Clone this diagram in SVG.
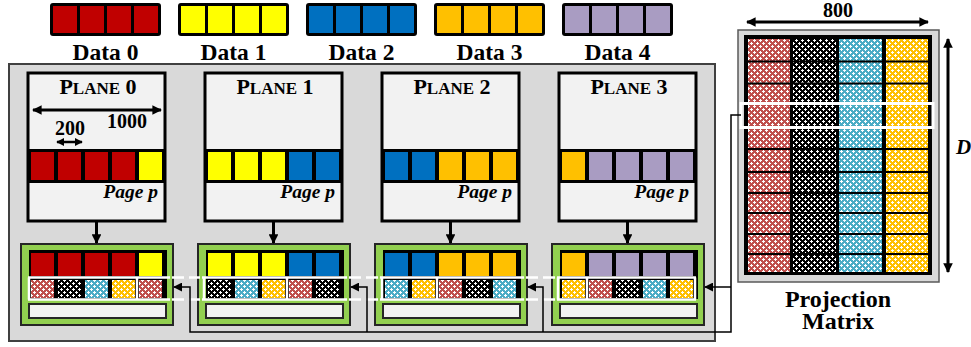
<svg xmlns="http://www.w3.org/2000/svg" xmlns:xlink="http://www.w3.org/1999/xlink" width="971" height="347" viewBox="0 0 971 347">
  <style>
    .lbl { font-family: 'Liberation Serif', serif; font-weight: bold; fill: #000; }
    .ital { font-style: italic; }
    .plane { fill: #f2f2f2; stroke: #000; stroke-width: 3; }
    .buf { fill: #92d050; stroke: #262626; stroke-width: 2; }
    .slot { fill: #f2f2f2; stroke: #262626; stroke-width: 2; }
    .conn { fill: none; stroke: #000; stroke-width: 1.5; }
    .thick { fill: none; stroke: #000; stroke-width: 3; }
    .hl { fill: none; stroke: #fff; stroke-width: 2.5; }
    .hld { fill: none; stroke: #fff; stroke-width: 2.5; stroke-dasharray: 12 5; }
    .c0 { fill: #c00000; } .c1 { fill: #ffff00; } .c2 { fill: #0070c0; } .c3 { fill: #ffc000; } .c4 { fill: #a99cc2; }
    .pr { fill: url(#pr); } .pk { fill: url(#pk); } .pb { fill: url(#pb); } .po { fill: url(#po); }
  </style>
  <defs>
    <path id="lattice" d="M1 0h1v1h-1zM0 1h1v1h-1zM2 1h1v1h-1zM1 2h1v1h-1zM4 3h1v1h-1zM3 4h1v1h-1zM5 4h1v1h-1zM4 5h1v1h-1zM1 1h1v1h-1zM4 4h1v1h-1z" fill="#fff"/>
    <pattern id="pr" width="6" height="6" patternUnits="userSpaceOnUse"><rect width="6" height="6" fill="#c0504d"/><use xlink:href="#lattice"/></pattern>
    <pattern id="pk" width="6" height="6" patternUnits="userSpaceOnUse"><rect width="6" height="6" fill="#000"/><use xlink:href="#lattice"/></pattern>
    <pattern id="pb" width="6" height="6" patternUnits="userSpaceOnUse"><rect width="6" height="6" fill="#4bacc6"/><use xlink:href="#lattice"/></pattern>
    <pattern id="po" width="6" height="6" patternUnits="userSpaceOnUse"><rect width="6" height="6" fill="#ffc000"/><use xlink:href="#lattice"/></pattern>
    <marker id="ah" viewBox="0 0 10 10" refX="9" refY="5" markerWidth="3.2" markerHeight="3.2" orient="auto-start-reverse">
      <path d="M0 0L10 5L0 10z" fill="#000"/>
    </marker>
    <marker id="ahs" viewBox="0 0 10 10" refX="9" refY="5" markerWidth="6" markerHeight="6" orient="auto">
      <path d="M0 0L10 5L0 10z" fill="#000"/>
    </marker>
  </defs>

  <!-- legend -->
  <g id="legend-data0">
    <rect x="50" y="3" width="111" height="33" rx="3" fill="#000"/>
    <rect class="c0" x="53" y="6" width="24" height="27"/><rect class="c0" x="80" y="6" width="24" height="27"/><rect class="c0" x="107" y="6" width="24" height="27"/><rect class="c0" x="134" y="6" width="24" height="27"/>
    <text class="lbl" x="105.5" y="60" font-size="23.5" text-anchor="middle">Data 0</text>
  </g>
  <g id="legend-data1">
    <rect x="178" y="3" width="111" height="33" rx="3" fill="#000"/>
    <rect class="c1" x="181" y="6" width="24" height="27"/><rect class="c1" x="208" y="6" width="24" height="27"/><rect class="c1" x="235" y="6" width="24" height="27"/><rect class="c1" x="262" y="6" width="24" height="27"/>
    <text class="lbl" x="233.5" y="60" font-size="23.5" text-anchor="middle">Data 1</text>
  </g>
  <g id="legend-data2">
    <rect x="306" y="3" width="111" height="33" rx="3" fill="#000"/>
    <rect class="c2" x="309" y="6" width="24" height="27"/><rect class="c2" x="336" y="6" width="24" height="27"/><rect class="c2" x="363" y="6" width="24" height="27"/><rect class="c2" x="390" y="6" width="24" height="27"/>
    <text class="lbl" x="361.5" y="60" font-size="23.5" text-anchor="middle">Data 2</text>
  </g>
  <g id="legend-data3">
    <rect x="434" y="3" width="111" height="33" rx="3" fill="#000"/>
    <rect class="c3" x="437" y="6" width="24" height="27"/><rect class="c3" x="464" y="6" width="24" height="27"/><rect class="c3" x="491" y="6" width="24" height="27"/><rect class="c3" x="518" y="6" width="24" height="27"/>
    <text class="lbl" x="489.5" y="60" font-size="23.5" text-anchor="middle">Data 3</text>
  </g>
  <g id="legend-data4">
    <rect x="562" y="3" width="111" height="33" rx="3" fill="#000"/>
    <rect class="c4" x="565" y="6" width="24" height="27"/><rect class="c4" x="592" y="6" width="24" height="27"/><rect class="c4" x="619" y="6" width="24" height="27"/><rect class="c4" x="646" y="6" width="24" height="27"/>
    <text class="lbl" x="617.5" y="60" font-size="23.5" text-anchor="middle">Data 4</text>
  </g>

  <!-- chip die -->
  <rect id="die" x="9" y="64" width="706" height="277" fill="#d9d9d9" stroke="#404040" stroke-width="2"/>

  <!-- planes -->
  <g id="plane0">
    <rect class="plane" x="28" y="73" width="137" height="148"/>
    <text class="lbl" x="98" y="94" font-size="22" text-anchor="middle">P<tspan font-size="17">LANE</tspan> 0</text>
    <line class="thick" x1="33" y1="110" x2="161" y2="110" marker-start="url(#ah)" marker-end="url(#ah)"/>
    <text class="lbl" x="127" y="128" font-size="20" text-anchor="middle">1000</text>
    <text class="lbl" x="70" y="135" font-size="20" text-anchor="middle">200</text>
    <line x1="57" y1="142" x2="82" y2="142" stroke="#000" stroke-width="2.5" marker-start="url(#ah)" marker-end="url(#ah)"/>
    <rect x="28" y="149" width="137" height="34" fill="#000"/>
    <rect class="c0" x="31" y="152" width="23" height="28"/><rect class="c0" x="58" y="152" width="23" height="28"/><rect class="c0" x="85" y="152" width="23" height="28"/><rect class="c0" x="112" y="152" width="23" height="28"/><rect class="c1" x="139" y="152" width="23" height="28"/>
    <text class="lbl ital" x="158" y="198" font-size="19.5" text-anchor="end">Page p</text>
  </g>
  <g id="plane1">
    <rect class="plane" x="205" y="73" width="137" height="148"/>
    <text class="lbl" x="275" y="94" font-size="22" text-anchor="middle">P<tspan font-size="17">LANE</tspan> 1</text>
    <rect x="205" y="149" width="137" height="34" fill="#000"/>
    <rect class="c1" x="208" y="152" width="23" height="28"/><rect class="c1" x="235" y="152" width="23" height="28"/><rect class="c1" x="262" y="152" width="23" height="28"/><rect class="c2" x="289" y="152" width="23" height="28"/><rect class="c2" x="316" y="152" width="23" height="28"/>
    <text class="lbl ital" x="335" y="198" font-size="19.5" text-anchor="end">Page p</text>
  </g>
  <g id="plane2">
    <rect class="plane" x="382" y="73" width="137" height="148"/>
    <text class="lbl" x="452" y="94" font-size="22" text-anchor="middle">P<tspan font-size="17">LANE</tspan> 2</text>
    <rect x="382" y="149" width="137" height="34" fill="#000"/>
    <rect class="c2" x="385" y="152" width="23" height="28"/><rect class="c2" x="412" y="152" width="23" height="28"/><rect class="c3" x="439" y="152" width="23" height="28"/><rect class="c3" x="466" y="152" width="23" height="28"/><rect class="c3" x="493" y="152" width="23" height="28"/>
    <text class="lbl ital" x="512" y="198" font-size="19.5" text-anchor="end">Page p</text>
  </g>
  <g id="plane3">
    <rect class="plane" x="559" y="73" width="137" height="148"/>
    <text class="lbl" x="629" y="94" font-size="22" text-anchor="middle">P<tspan font-size="17">LANE</tspan> 3</text>
    <rect x="559" y="149" width="137" height="34" fill="#000"/>
    <rect class="c3" x="562" y="152" width="23" height="28"/><rect class="c4" x="589" y="152" width="23" height="28"/><rect class="c4" x="616" y="152" width="23" height="28"/><rect class="c4" x="643" y="152" width="23" height="28"/><rect class="c4" x="670" y="152" width="23" height="28"/>
    <text class="lbl ital" x="689" y="198" font-size="19.5" text-anchor="end">Page p</text>
  </g>

  <!-- page buffers -->
  <g id="buffer0">
    <rect class="buf" x="21" y="244" width="152" height="81"/>
    <rect x="29" y="250" width="138" height="49" fill="#000"/>
    <rect class="c0" x="31" y="253" width="23" height="23"/><rect class="c0" x="58" y="253" width="23" height="23"/><rect class="c0" x="85" y="253" width="23" height="23"/><rect class="c0" x="112" y="253" width="23" height="23"/><rect class="c1" x="139" y="253" width="23" height="23"/>
    <rect class="pr" x="31" y="280" width="23" height="18"/><rect class="pk" x="58" y="280" width="23" height="18"/><rect class="pb" x="85" y="280" width="23" height="18"/><rect class="po" x="112" y="280" width="23" height="18"/><rect class="pr" x="139" y="280" width="23" height="18"/>
    <rect class="slot" x="29" y="304" width="137" height="14"/>
  </g>
  <g id="buffer1">
    <rect class="buf" x="198" y="244" width="152" height="81"/>
    <rect x="206" y="250" width="138" height="49" fill="#000"/>
    <rect class="c1" x="208" y="253" width="23" height="23"/><rect class="c1" x="235" y="253" width="23" height="23"/><rect class="c1" x="262" y="253" width="23" height="23"/><rect class="c2" x="289" y="253" width="23" height="23"/><rect class="c2" x="316" y="253" width="23" height="23"/>
    <rect class="pk" x="208" y="280" width="23" height="18"/><rect class="pb" x="235" y="280" width="23" height="18"/><rect class="po" x="262" y="280" width="23" height="18"/><rect class="pr" x="289" y="280" width="23" height="18"/><rect class="pk" x="316" y="280" width="23" height="18"/>
    <rect class="slot" x="206" y="304" width="137" height="14"/>
  </g>
  <g id="buffer2">
    <rect class="buf" x="375" y="244" width="152" height="81"/>
    <rect x="383" y="250" width="138" height="49" fill="#000"/>
    <rect class="c2" x="385" y="253" width="23" height="23"/><rect class="c2" x="412" y="253" width="23" height="23"/><rect class="c3" x="439" y="253" width="23" height="23"/><rect class="c3" x="466" y="253" width="23" height="23"/><rect class="c3" x="493" y="253" width="23" height="23"/>
    <rect class="pb" x="385" y="280" width="23" height="18"/><rect class="po" x="412" y="280" width="23" height="18"/><rect class="pr" x="439" y="280" width="23" height="18"/><rect class="pk" x="466" y="280" width="23" height="18"/><rect class="pb" x="493" y="280" width="23" height="18"/>
    <rect class="slot" x="383" y="304" width="137" height="14"/>
  </g>
  <g id="buffer3">
    <rect class="buf" x="552" y="244" width="152" height="81"/>
    <rect x="560" y="250" width="138" height="49" fill="#000"/>
    <rect class="c3" x="562" y="253" width="23" height="23"/><rect class="c4" x="589" y="253" width="23" height="23"/><rect class="c4" x="616" y="253" width="23" height="23"/><rect class="c4" x="643" y="253" width="23" height="23"/><rect class="c4" x="670" y="253" width="23" height="23"/>
    <rect class="po" x="562" y="280" width="23" height="18"/><rect class="pr" x="589" y="280" width="23" height="18"/><rect class="pk" x="616" y="280" width="23" height="18"/><rect class="pb" x="643" y="280" width="23" height="18"/><rect class="po" x="670" y="280" width="23" height="18"/>
    <rect class="slot" x="560" y="304" width="137" height="14"/>
  </g>

  <!-- matrix rows laid across the buffers -->
  <g id="row-frames">
    <path class="hl" d="M28 277.5H170M202 277.5H347M380 277.5H524M557 277.5H696M28 299.5H170M202 299.5H347M380 299.5H524M557 299.5H696"/>
    <path class="hld" d="M172 277.5H200M349 277.5H378M526 277.5H555M172 299.5H200M349 299.5H378M526 299.5H555"/>
    <path class="hl" d="M29 277.5V299.5M137 277.5V299.5M204 277.5V299.5M287 277.5V299.5M382 277.5V299.5M437 277.5V299.5M558 277.5V299.5M587 277.5V299.5M695 277.5V299.5"/>
  </g>

  <!-- projection matrix -->
  <g id="projection-matrix">
    <rect x="738" y="30" width="201" height="252" fill="#d9d9d9" stroke="#595959" stroke-width="1.5"/>
    <rect x="744" y="35" width="188" height="240" fill="#000"/>
    <g id="col-red">
      <rect class="pr" x="748" y="39" width="42" height="21.5"/><rect class="pr" x="748" y="62.5" width="42" height="20"/><rect class="pr" x="748" y="84.5" width="42" height="19"/><rect class="pr" x="748" y="105" width="42" height="21"/><rect class="pr" x="748" y="128" width="42" height="20"/><rect class="pr" x="748" y="150" width="42" height="21"/><rect class="pr" x="748" y="173" width="42" height="19"/><rect class="pr" x="748" y="194" width="42" height="18"/><rect class="pr" x="748" y="214" width="42" height="19"/><rect class="pr" x="748" y="235" width="42" height="18"/><rect class="pr" x="748" y="255" width="42" height="17"/>
    </g>
    <g id="col-black">
      <rect class="pk" x="793" y="39" width="43" height="21.5"/><rect class="pk" x="793" y="62.5" width="43" height="20"/><rect class="pk" x="793" y="84.5" width="43" height="19"/><rect class="pk" x="793" y="105" width="43" height="21"/><rect class="pk" x="793" y="128" width="43" height="20"/><rect class="pk" x="793" y="150" width="43" height="21"/><rect class="pk" x="793" y="173" width="43" height="19"/><rect class="pk" x="793" y="194" width="43" height="18"/><rect class="pk" x="793" y="214" width="43" height="19"/><rect class="pk" x="793" y="235" width="43" height="18"/><rect class="pk" x="793" y="255" width="43" height="17"/>
    </g>
    <g id="col-blue">
      <rect class="pb" x="839" y="39" width="43" height="21.5"/><rect class="pb" x="839" y="62.5" width="43" height="20"/><rect class="pb" x="839" y="84.5" width="43" height="19"/><rect class="pb" x="839" y="105" width="43" height="21"/><rect class="pb" x="839" y="128" width="43" height="20"/><rect class="pb" x="839" y="150" width="43" height="21"/><rect class="pb" x="839" y="173" width="43" height="19"/><rect class="pb" x="839" y="194" width="43" height="18"/><rect class="pb" x="839" y="214" width="43" height="19"/><rect class="pb" x="839" y="235" width="43" height="18"/><rect class="pb" x="839" y="255" width="43" height="17"/>
    </g>
    <g id="col-orange">
      <rect class="po" x="886" y="39" width="42" height="21.5"/><rect class="po" x="886" y="62.5" width="42" height="20"/><rect class="po" x="886" y="84.5" width="42" height="19"/><rect class="po" x="886" y="105" width="42" height="21"/><rect class="po" x="886" y="128" width="42" height="20"/><rect class="po" x="886" y="150" width="42" height="21"/><rect class="po" x="886" y="173" width="42" height="19"/><rect class="po" x="886" y="194" width="42" height="18"/><rect class="po" x="886" y="214" width="42" height="19"/><rect class="po" x="886" y="235" width="42" height="18"/><rect class="po" x="886" y="255" width="42" height="17"/>
    </g>
    <rect x="741" y="103.5" width="192" height="24" fill="none" stroke="#fff" stroke-width="3"/>
    <line class="thick" x1="747" y1="22" x2="928" y2="22" marker-start="url(#ah)" marker-end="url(#ah)"/>
    <text class="lbl" x="838" y="17" font-size="20" text-anchor="middle">800</text>
    <line class="thick" x1="948" y1="39" x2="948" y2="272" marker-start="url(#ah)" marker-end="url(#ah)"/>
    <text class="lbl ital" x="956" y="154" font-size="21">D</text>
    <text class="lbl" x="838" y="307" font-size="24" text-anchor="middle">Projection</text>
    <text class="lbl" x="838" y="329" font-size="24" text-anchor="middle">Matrix</text>
  </g>

  <!-- connectors -->
  <g id="connectors">
    <line class="thick" x1="96.5" y1="221" x2="96.5" y2="243" marker-end="url(#ah)"/>
    <line class="thick" x1="273.5" y1="221" x2="273.5" y2="243" marker-end="url(#ah)"/>
    <line class="thick" x1="450.5" y1="221" x2="450.5" y2="243" marker-end="url(#ah)"/>
    <line class="thick" x1="627.5" y1="221" x2="627.5" y2="243" marker-end="url(#ah)"/>
    <path class="conn" d="M741 115H731V332H190V287H174" marker-end="url(#ahs)"/>
    <path class="conn" d="M731 287H705" marker-end="url(#ahs)"/>
    <path class="conn" d="M367 332V287H351" marker-end="url(#ahs)"/>
    <path class="conn" d="M543 332V287H528" marker-end="url(#ahs)"/>
  </g>
</svg>
